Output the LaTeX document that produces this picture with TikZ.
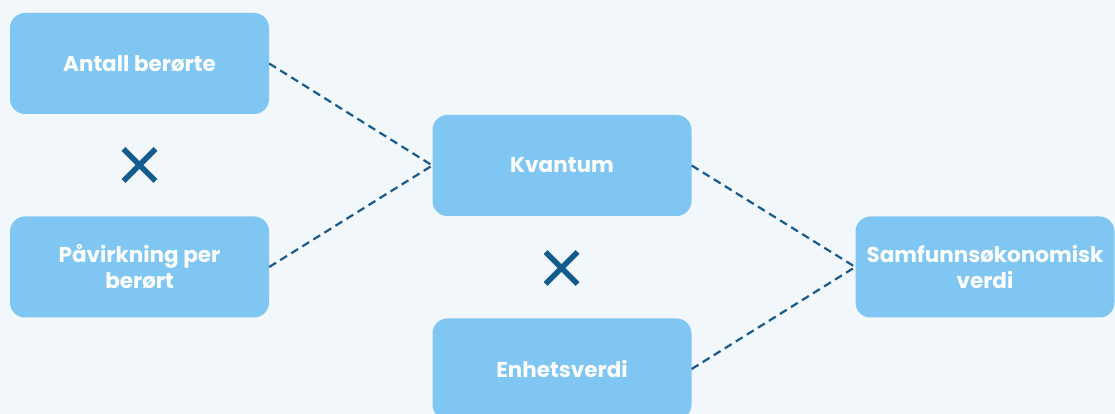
\documentclass[tikz,border=0pt]{standalone}
\usepackage{fontspec}
\setmainfont{Poppins}
\usepackage{xcolor}
\usetikzlibrary{calc}
\definecolor{bgcol}{HTML}{F1F7FB}
\definecolor{boxcol}{HTML}{80C6F2}
\definecolor{linecol}{HTML}{1A5A8A}
\definecolor{crosscol}{HTML}{145C8E}
\tikzset{
  factor/.style={draw=none, fill=boxcol, rounded corners=15pt, minimum width=259pt,
    minimum height=101pt, inner sep=0pt, align=center, text=white,
    font=\bfseries\fontsize{21.5}{26}\selectfont},
  link/.style={draw=linecol, line width=2.2pt, dash pattern=on 8pt off 5pt},
  times/.style={draw=crosscol, line width=5.5pt}
}

\begin{document}
\begin{tikzpicture}[x=1pt,y=1pt]
      \fill [bgcol] (0,0) rectangle (1115,414);
      \clip (0,0) rectangle (1115,414);
      \useasboundingbox (0,0) rectangle (1115,414);
      \node [factor] (antall) at (139.5,350.5) {Antall berørte};
      \node [factor] (pavirk) at (139.5,147) {Påvirkning per\\berørt};
      \node [factor] (kvantum) at (562,248.5) {Kvantum};
      \node [factor] (enhet) at (562,45) {Enhetsverdi};
      \node [factor] (samf) at (985,147) {Samfunnsøkonomisk\\verdi};
      \draw [link] (antall.east) -- (kvantum.west);
      \draw [link] (pavirk.east) -- (kvantum.west);
      \draw [link] (kvantum.east) -- (samf.west);
      \draw [link] (enhet.east) -- (samf.west);
      % multiplication signs
      \coordinate (mult1) at (139.5,249);
      \coordinate (mult2) at (561.5,146);
      \foreach \m in {mult1,mult2}{
        \draw [times] ($(\m)+(-16,-16)$) -- ($(\m)+(16,16)$);
        \draw [times] ($(\m)+(-16,16)$) -- ($(\m)+(16,-16)$);
      }
\end{tikzpicture}
\end{document}
